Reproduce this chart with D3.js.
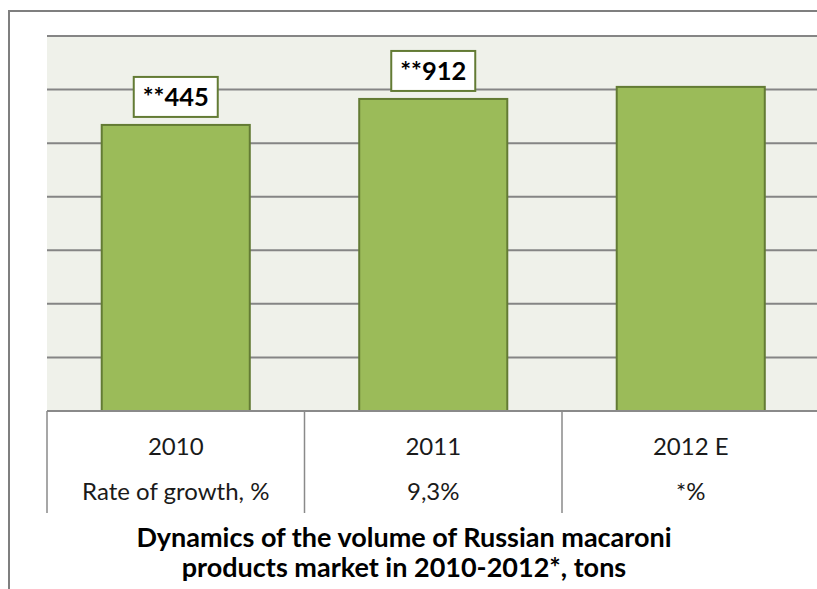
<!DOCTYPE html>
<html>
<head>
<meta charset="utf-8">
<script src="https://cdn.jsdelivr.net/npm/d3@7"></script>
<style>
  body { margin: 0; background: #fff; }
  svg { display: block; font-family: Lato, "Open Sans", sans-serif; }
</style>
</head>
<body>
<svg width="817" height="589"></svg>
<script>
// dados (mil toneladas, estimado)
let anos = ["2010", "2011", "2012 E"];
let volumes = [1068, 1165, 1210];
let rotulos = ["**445", "**912", null];
let crescimento = ["Rate of growth, %", "9,3%", "*%"];
let ticks_y = [0, 200, 400, 600, 800, 1000, 1200, 1400];
let titulo = ["Dynamics of the volume of Russian macaroni", "products market in 2010-2012*, tons"];

let $svg = d3.select("svg");

let w = 817, h = 589;
let plot = { left: 47, top: 36, right: 819.5, bottom: 411 };

let x = d3.scaleBand()
  .domain(anos)
  .range([plot.left, plot.right])
  .paddingInner(0.425)
  .paddingOuter(0.2125);

let y = d3.scaleLinear()
  .domain([0, 1400])
  .range([plot.bottom, plot.top]);

// moldura externa
$svg.append("line")
  .attr("x1", 9).attr("x2", 9).attr("y1", 10).attr("y2", h)
  .attr("stroke", "#7f7f7f").attr("stroke-width", 2);
$svg.append("line")
  .attr("x1", 8).attr("x2", w).attr("y1", 11).attr("y2", 11)
  .attr("stroke", "#7f7f7f").attr("stroke-width", 2);

// fundo da area do grafico
$svg.append("rect")
  .attr("x", plot.left)
  .attr("y", plot.top)
  .attr("width", plot.right - plot.left)
  .attr("height", plot.bottom - plot.top)
  .attr("fill", "#eff1ea");

// linhas de grade
$svg.selectAll("line.grade").data(ticks_y.slice(1))
  .enter()
  .append("line")
  .classed("grade", true)
  .attr("x1", plot.left)
  .attr("x2", plot.right)
  .attr("y1", d => y(d))
  .attr("y2", d => y(d))
  .attr("stroke", "#858585")
  .attr("stroke-width", 2);

// barras
$svg.selectAll("rect.barras").data(volumes)
  .enter()
  .append("rect")
  .classed("barras", true)
  .attr("x", (d, i) => x(anos[i]))
  .attr("y", d => y(d))
  .attr("width", x.bandwidth())
  .attr("height", d => y(0) - y(d))
  .attr("fill", "#9bbb59")
  .attr("stroke", "#637b34")
  .attr("stroke-width", 2);

// rotulos em caixa
let caixa_w = 84, caixa_h = 40;
let $rotulos = $svg.selectAll("g.rotulo")
  .data(rotulos.map((r, i) => ({ r: r, ano: anos[i], v: volumes[i] })).filter(d => d.r))
  .enter()
  .append("g")
  .classed("rotulo", true)
  .attr("transform", d => `translate(${x(d.ano) + x.bandwidth() / 2},${y(d.v) - 8 - caixa_h / 2})`);

$rotulos.append("rect")
  .attr("x", -caixa_w / 2)
  .attr("y", -caixa_h / 2)
  .attr("width", caixa_w)
  .attr("height", caixa_h)
  .attr("fill", "#fff")
  .attr("stroke", "#637b34")
  .attr("stroke-width", 2);

$rotulos.append("text")
  .attr("text-anchor", "middle")
  .attr("dy", "0.36em")
  .attr("font-size", 25.5)
  .attr("font-weight", "bold")
  .attr("fill", "#000")
  .text(d => d.r);

// tabela embaixo
let tab_fim = 513;
$svg.append("line")
  .attr("x1", plot.left).attr("x2", w)
  .attr("y1", plot.bottom).attr("y2", plot.bottom)
  .attr("stroke", "#8a8a8a").attr("stroke-width", 2);

let divisas = [plot.left].concat(anos.slice(1).map(a => x(a) - x.step() * x.paddingInner() / 2));
$svg.selectAll("line.divisa").data(divisas)
  .enter()
  .append("line")
  .classed("divisa", true)
  .attr("x1", d => d).attr("x2", d => d)
  .attr("y1", plot.bottom).attr("y2", tab_fim)
  .attr("stroke", "#8a8a8a")
  .attr("stroke-width", 1.5);

$svg.selectAll("text.ano").data(anos)
  .enter()
  .append("text")
  .classed("ano", true)
  .attr("x", d => x(d) + x.bandwidth() / 2)
  .attr("y", 455)
  .attr("text-anchor", "middle")
  .attr("font-size", 24)
  .attr("fill", "#1a1a1a")
  .text(d => d);

$svg.selectAll("text.cresc").data(crescimento)
  .enter()
  .append("text")
  .classed("cresc", true)
  .attr("x", (d, i) => x(anos[i]) + x.bandwidth() / 2)
  .attr("y", 500)
  .attr("text-anchor", "middle")
  .attr("font-size", 24)
  .attr("fill", "#1a1a1a")
  .text(d => d);

// titulo
$svg.selectAll("text.titulo").data(titulo)
  .enter()
  .append("text")
  .classed("titulo", true)
  .attr("x", 404)
  .attr("y", (d, i) => 547 + i * 30)
  .attr("text-anchor", "middle")
  .attr("font-size", 27)
  .attr("font-weight", "bold")
  .attr("fill", "#000")
  .text(d => d);
</script>
</body>
</html>
